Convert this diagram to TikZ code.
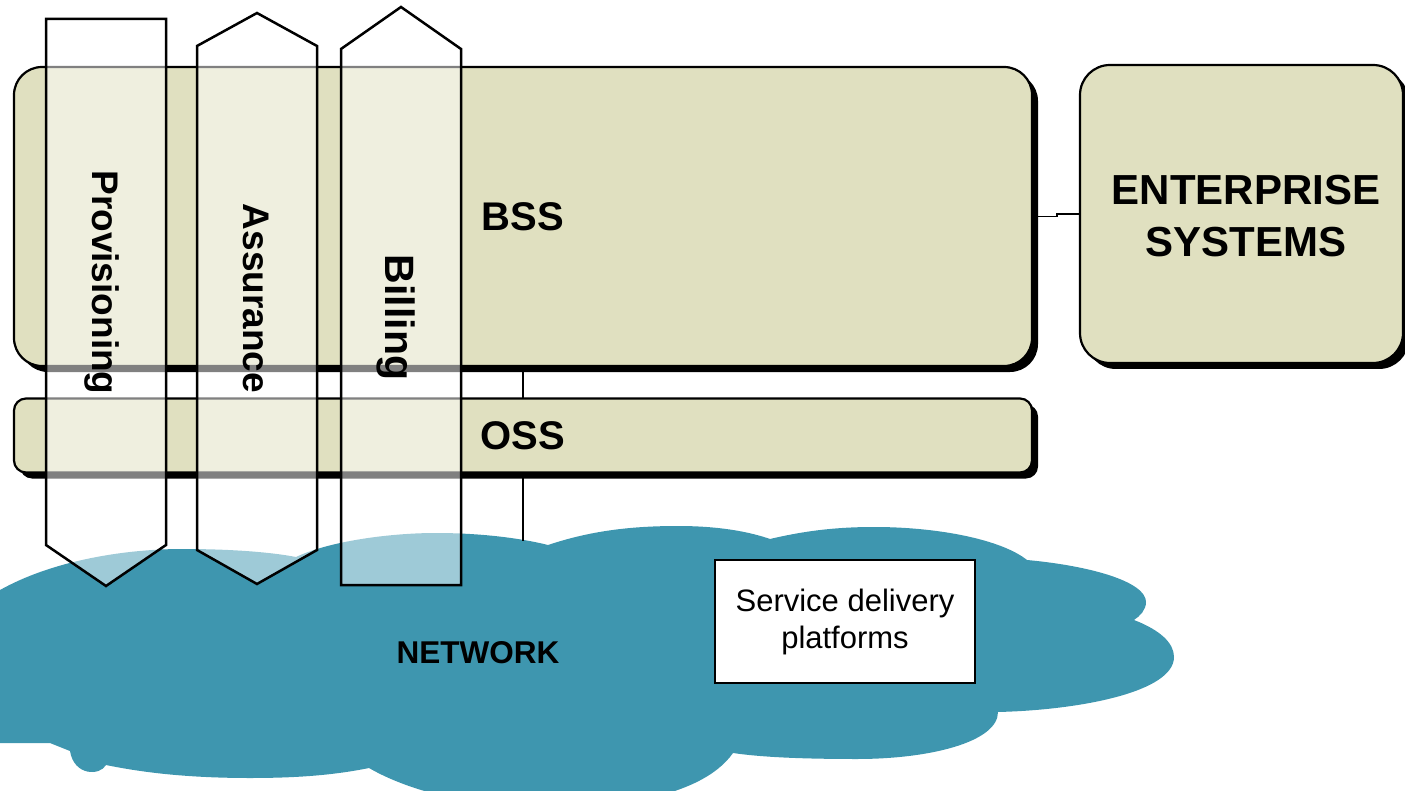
\documentclass[tikz,border=0pt]{standalone}
\usepackage{fontspec}
\setmainfont{Liberation Sans}
\usetikzlibrary{shadows}
\definecolor{boxfill}{HTML}{E0E0C0}
\definecolor{netblue}{HTML}{3E96AF}
\tikzset{
  layerbox/.style={draw=black, line width=2.2pt, fill=boxfill, inner sep=0pt, outer sep=0pt,
    drop shadow={shadow xshift=6pt, shadow yshift=-6pt, fill=black, opacity=1},
    font=\bfseries\fontsize{40}{44}\selectfont},
  link/.style={draw=black, line width=1.5pt},
  process/.style={draw=black, line width=2.5pt, fill=white, fill opacity=0.5, line join=miter},
  proclabel/.style={rotate=-90, inner sep=0pt, font=\bfseries\fontsize{37}{40}\selectfont},
}
\begin{document}
\begin{tikzpicture}[x=1pt,y=-1pt]
\useasboundingbox (0,0) rectangle (1405,791);
\begin{scope}
\clip (0,0) rectangle (1405,791);

% network cloud outline, lobe by lobe, clockwise from the left edge
\fill[netblue]
  (-5,590) -- (0,590)
  .. controls (50,562) and (120,549) .. (183,549)
  .. controls (230,549) and (270,552) .. (296,557)
  .. controls (330,541) and (390,533) .. (436,533)
  .. controls (480,533) and (520,538) .. (548,545)
  .. controls (590,531) and (630,526) .. (678,526)
  .. controls (720,526) and (750,532) .. (770,539)
  .. controls (808,530) and (840,527) .. (874,527)
  .. controls (940,527) and (1002,540) .. (1027,560)
  .. controls (1092,566) and (1146,582) .. (1146,602)
  .. controls (1146,610) and (1140,616) .. (1134,620)
  .. controls (1160,630) and (1174,643) .. (1174,657)
  .. controls (1174,692) and (1080,710) .. (998,712)
  .. controls (998,742) and (930,759) .. (857,759)
  .. controls (800,759) and (760,757) .. (733,753)
  .. controls (700,800) and (600,812) .. (511,806)
  .. controls (450,802) and (400,786) .. (369,768)
  .. controls (330,776) and (290,778) .. (250,778)
  .. controls (185,778) and (140,772) .. (106,765)
  .. controls (100,776) and (74,776) .. (70,751)
  -- (50,743) -- (-5,743) -- cycle;
\coordinate (nettop) at (523,541);

\node[draw=black, line width=2.2pt, fill=white, inner sep=0pt, minimum width=260pt,
  minimum height=123pt, align=center, font=\fontsize{31}{37}\selectfont]
  (sdp) at (845,621.5) {Service delivery\\platforms};
\node[font=\bfseries\fontsize{31.5}{34}\selectfont] (net) at (478,653) {NETWORK};

% management layers
\node[layerbox, rounded corners=28pt, minimum width=1018pt, minimum height=299pt]
  (bss) at (523,216.5) {BSS};
\node[layerbox, rounded corners=12pt, minimum width=1018pt, minimum height=74pt]
  (oss) at (523,435.5) {OSS};
\node[layerbox, rounded corners=30pt, minimum width=323pt, minimum height=298pt]
  (ent) at (1241.5,214) {};
\node[align=center, font=\bfseries\fontsize{42}{52}\selectfont]
  (entlabel) at (1246,216) {ENTERPRISE\\SYSTEMS};

% links between layers
\draw[link] (bss.east) -- ++(25,0) |- (ent.west);
\draw[link] (bss.south -| nettop) -- (oss.north -| nettop);
\draw[link] (oss.south -| nettop) -- (nettop);

% end-to-end processes crossing the layers
\draw[process] (46,19) -- (166,19) -- (166,545) -- (106,586) -- (46,545) -- cycle;
\draw[process] (257,13) -- (317,46) -- (317,550) -- (257,584) -- (197,550) -- (197,46) -- cycle;
\draw[process] (401,7) -- (461,49) -- (461,585) -- (341,585) -- (341,49) -- cycle;

\node[proclabel] (prov) at (101.5,282.5) {Provisioning};
\node[proclabel] (assu) at (256,298.5) {Assurance};
\node[proclabel, font=\bfseries\fontsize{41}{44}\selectfont] (bill) at (396,317.5) {Billing};
\end{scope}
\end{tikzpicture}
\end{document}
